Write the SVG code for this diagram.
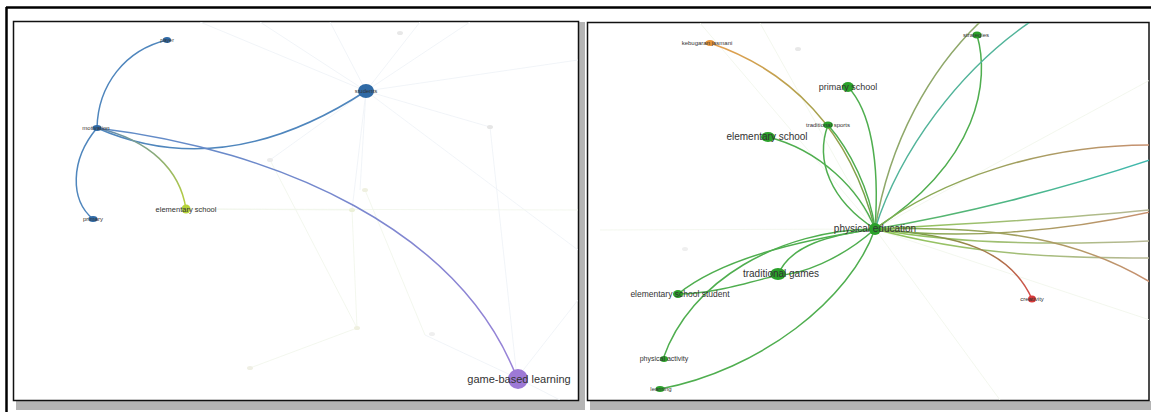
<svg xmlns="http://www.w3.org/2000/svg" width="1151" height="412" viewBox="0 0 1151 412">
<style>
  .frame{fill:#ffffff;stroke:#111;stroke-width:1.5}
  .shadow{fill:#b4b4b4}
  .rule{stroke:#000;stroke-width:2.5;fill:none}
  .e{fill:none;stroke-width:1.5;stroke-linecap:round}
  .faint{fill:none;stroke:#eef1f6;stroke-width:0.8}
  .fg{fill:none;stroke:#f0f5ea;stroke-width:0.8}
  .lbl{font-family:"Liberation Sans",Arial,sans-serif;fill:#333;text-anchor:middle}
  .blue{stroke:#4f86bd}
  .grn{stroke:#4fae4f}
</style>
<defs>
  <clipPath id="cl"><rect x="14" y="22" width="564" height="378"/></clipPath>
  <clipPath id="cr"><rect x="588" y="23" width="561" height="377"/></clipPath>
  <linearGradient id="gPur" x1="0" y1="0" x2="1" y2="1"><stop offset="0" stop-color="#5e8cc6"/><stop offset="1" stop-color="#9a82d8"/></linearGradient>
  <linearGradient id="gYel" x1="0" y1="0" x2="1" y2="1"><stop offset="0" stop-color="#5d86b8"/><stop offset="1" stop-color="#b9d13a"/></linearGradient>
  <linearGradient id="gOr" x1="0" y1="0" x2="1" y2="1"><stop offset="0" stop-color="#e8a050"/><stop offset="1" stop-color="#6aa24a"/></linearGradient>
  <linearGradient id="gRed" x1="0" y1="0" x2="1" y2="1"><stop offset="0" stop-color="#6ab04a"/><stop offset="1" stop-color="#d84a4a"/></linearGradient>
  <linearGradient id="gBr" x1="0" y1="0" x2="1" y2="0"><stop offset="0" stop-color="#7ab04e"/><stop offset="1" stop-color="#c89070"/></linearGradient>
  <linearGradient id="gTeal" x1="0" y1="0" x2="1" y2="0"><stop offset="0" stop-color="#5cb45c"/><stop offset="1" stop-color="#3fb8b0"/></linearGradient>
  <linearGradient id="gLight" x1="0" y1="0" x2="1" y2="0"><stop offset="0" stop-color="#8cc455"/><stop offset="1" stop-color="#b8b896"/></linearGradient>
</defs>

<!-- page rules -->
<line class="rule" x1="6" y1="7.5" x2="1151" y2="7.5"/>
<line class="rule" x1="6.5" y1="7" x2="6.5" y2="412"/>

<!-- panel shadows -->
<rect class="shadow" x="16" y="401" width="566" height="9"/>
<rect class="shadow" x="579" y="22" width="6" height="388"/>
<rect class="shadow" x="590" y="401" width="561" height="9"/>

<!-- LEFT PANEL -->
<g id="panel-left">
  <rect class="frame" x="13.5" y="21.5" width="565" height="379"/>
  <g clip-path="url(#cl)">
    <g id="faint-left">
      <path class="faint" d="M366 91 L260 22 M366 91 L330 22 M366 91 L420 22 M366 91 L470 22 M366 91 L578 60 M366 91 L490 127 M366 91 L578 250 M366 91 L270 160 M366 91 L360 190 M366 91 L352 210 M366 91 L200 22"/>
      <path class="fg" d="M352 210 L357 328 M365 190 L425 335 M357 328 L250 368 M270 160 L357 328 M186 209 L352 210 M186 209 L578 210"/>
      <path class="faint" d="M517 378 L578 300 M517 378 L490 127 M517 378 L425 335 M517 378 L560 400"/>
      <ellipse cx="400" cy="33" rx="3" ry="2" fill="#e8e8e8"/>
      <ellipse cx="490" cy="127" rx="3" ry="2" fill="#e6e6e6"/>
      <ellipse cx="270" cy="160" rx="3" ry="2" fill="#ececec"/>
      <ellipse cx="365" cy="190" rx="3" ry="2" fill="#eff0e0"/>
      <ellipse cx="352" cy="210" rx="3" ry="2" fill="#ebf0d8"/>
      <ellipse cx="357" cy="328" rx="3" ry="2" fill="#eff0e0"/>
      <ellipse cx="432" cy="334" rx="3" ry="2" fill="#efefef"/>
      <ellipse cx="250" cy="368" rx="3" ry="2" fill="#efefe4"/>
    </g>
    <g id="edges-left">
      <path class="e blue" d="M97 128 C98 85 125 50 167 40"/>
      <path class="e blue" d="M97 128 C70 160 70 200 93 219"/>
      <path class="e blue" d="M97 128 C170 160 260 160 366 91"/>
      <path class="e" stroke="url(#gPur)" d="M97 128 C280 150 460 230 517 378"/>
      <path class="e" stroke="url(#gYel)" d="M97 128 C150 140 180 170 186 209"/>
    </g>
  </g>
  <g id="n-player"><ellipse cx="167" cy="40" rx="4" ry="3" fill="#2f6aa6"/><text class="lbl" x="167" y="42" font-size="5">player</text></g>
  <g id="n-motivation"><ellipse cx="97" cy="128" rx="4.5" ry="3" fill="#2f6aa6"/><text class="lbl" x="96" y="130" font-size="6">motivation</text></g>
  <g id="n-primary"><ellipse cx="93" cy="219" rx="4.5" ry="3" fill="#2f6aa6"/><text class="lbl" x="93" y="221" font-size="6">primary</text></g>
  <g id="n-elementary"><circle cx="186" cy="209" r="4.5" fill="#b6d23a"/><text class="lbl" x="186" y="211.5" font-size="7.5">elementary school</text></g>
  <g id="n-students"><ellipse cx="366" cy="91" rx="8" ry="7" fill="#2f6aa6"/><text class="lbl" x="366" y="93" font-size="6">students</text></g>
  <g id="n-gbl"><circle cx="518" cy="379" r="10" fill="#9d79d6"/><text class="lbl" x="519" y="383" font-size="11">game-based learning</text></g>
</g>

<!-- RIGHT PANEL -->
<g id="panel-right">
  <rect class="frame" x="587.5" y="22.5" width="561.5" height="378"/>
  <g clip-path="url(#cr)">
    <g id="faint-right">
      <path class="fg" d="M875 229 L700 23 M875 229 L760 23 M875 229 L1150 80 M875 229 L1000 400 M875 229 L600 230 M875 229 L1150 320"/>
      <ellipse cx="798" cy="49" rx="3" ry="2" fill="#e8e8e8"/>
      <ellipse cx="685" cy="249" rx="3" ry="2" fill="#efefef"/>
    </g>
    <g id="edges-right">
      <path class="e" stroke="url(#gOr)" d="M710 43 C790 70 850 130 875 229"/>
      <path class="e grn" d="M848 87 C870 110 880 160 875 229"/>
      <path class="e grn" d="M828 125 C815 160 830 200 875 229"/>
      <path class="e grn" d="M828 125 C850 150 870 190 875 229"/>
      <path class="e grn" d="M768 137 C820 150 860 190 875 229"/>
      <path class="e grn" d="M977 35 C990 80 980 160 875 229"/>
      <path class="e" stroke="#8fa86a" d="M875 229 C890 140 930 70 980 22"/>
      <path class="e" stroke="#52b49a" d="M875 229 C900 150 960 70 1030 22"/>
      <path class="e" stroke="url(#gBr)" d="M875 229 C940 180 1040 145 1150 145"/>
      <path class="e" stroke="url(#gTeal)" d="M875 229 C960 215 1060 190 1150 160"/>
      <path class="e" stroke="url(#gLight)" d="M875 229 C950 225 1050 220 1150 210"/>
      <path class="e" stroke="url(#gBr)" d="M875 229 C960 240 1060 232 1150 212"/>
      <path class="e" stroke="url(#gLight)" d="M875 229 C960 245 1060 245 1150 241"/>
      <path class="e" stroke="url(#gLight)" d="M875 229 C970 255 1060 258 1150 258"/>
      <path class="e" stroke="url(#gBr)" d="M875 229 C1000 225 1080 240 1150 282"/>
      <path class="e" stroke="url(#gRed)" d="M875 229 C960 235 1010 250 1032 299"/>
      <path class="e grn" d="M875 229 C830 235 790 245 778 275"/>
      <path class="e grn" d="M875 229 C840 260 800 275 778 275"/>
      <path class="e grn" d="M875 229 C800 240 720 260 678 294"/>
      <path class="e grn" d="M778 275 C740 285 710 294 678 294"/>
      <path class="e grn" d="M875 229 C780 230 690 280 663 359"/>
      <path class="e grn" d="M875 229 C850 300 760 370 660 389"/>
    </g>
  </g>
  <g id="n-pe"><circle cx="875" cy="229" r="6" fill="#2aa02a"/><text class="lbl" x="875" y="232" font-size="10">physical education</text></g>
  <g id="n-primaryschool"><ellipse cx="848" cy="87" rx="6" ry="5" fill="#2aa02a"/><text class="lbl" x="848" y="90" font-size="9">primary school</text></g>
  <g id="n-small"><ellipse cx="828" cy="125" rx="5" ry="3.5" fill="#2aa02a"/><text class="lbl" x="828" y="127" font-size="6">traditional sports</text></g>
  <g id="n-elem"><ellipse cx="768" cy="137" rx="7" ry="5" fill="#2aa02a"/><text class="lbl" x="767" y="140" font-size="10">elementary school</text></g>
  <g id="n-tg"><ellipse cx="778" cy="274" rx="8" ry="6" fill="#2aa02a"/><text class="lbl" x="781" y="277" font-size="10">traditional games</text></g>
  <g id="n-ess"><ellipse cx="678" cy="294" rx="5" ry="4" fill="#2aa02a"/><text class="lbl" x="680" y="297" font-size="8.5">elementary school student</text></g>
  <g id="n-pa"><ellipse cx="664" cy="359" rx="4" ry="3" fill="#2aa02a"/><text class="lbl" x="664" y="361" font-size="7">physical activity</text></g>
  <g id="n-learning"><ellipse cx="660" cy="389" rx="4.5" ry="3" fill="#2aa02a"/><text class="lbl" x="661" y="391" font-size="6">learning</text></g>
  <g id="n-kj"><ellipse cx="710" cy="43" rx="5" ry="3" fill="#e89538"/><text class="lbl" x="707" y="45" font-size="6">kebugaran jasmani</text></g>
  <g id="n-top"><ellipse cx="977" cy="35" rx="4.5" ry="3.5" fill="#2aa02a"/><text class="lbl" x="976" y="37" font-size="6">strategies</text></g>
  <g id="n-red"><ellipse cx="1032" cy="299" rx="4" ry="3.5" fill="#d93a3a"/><text class="lbl" x="1032" y="301" font-size="6">creativity</text></g>
</g>
</svg>
